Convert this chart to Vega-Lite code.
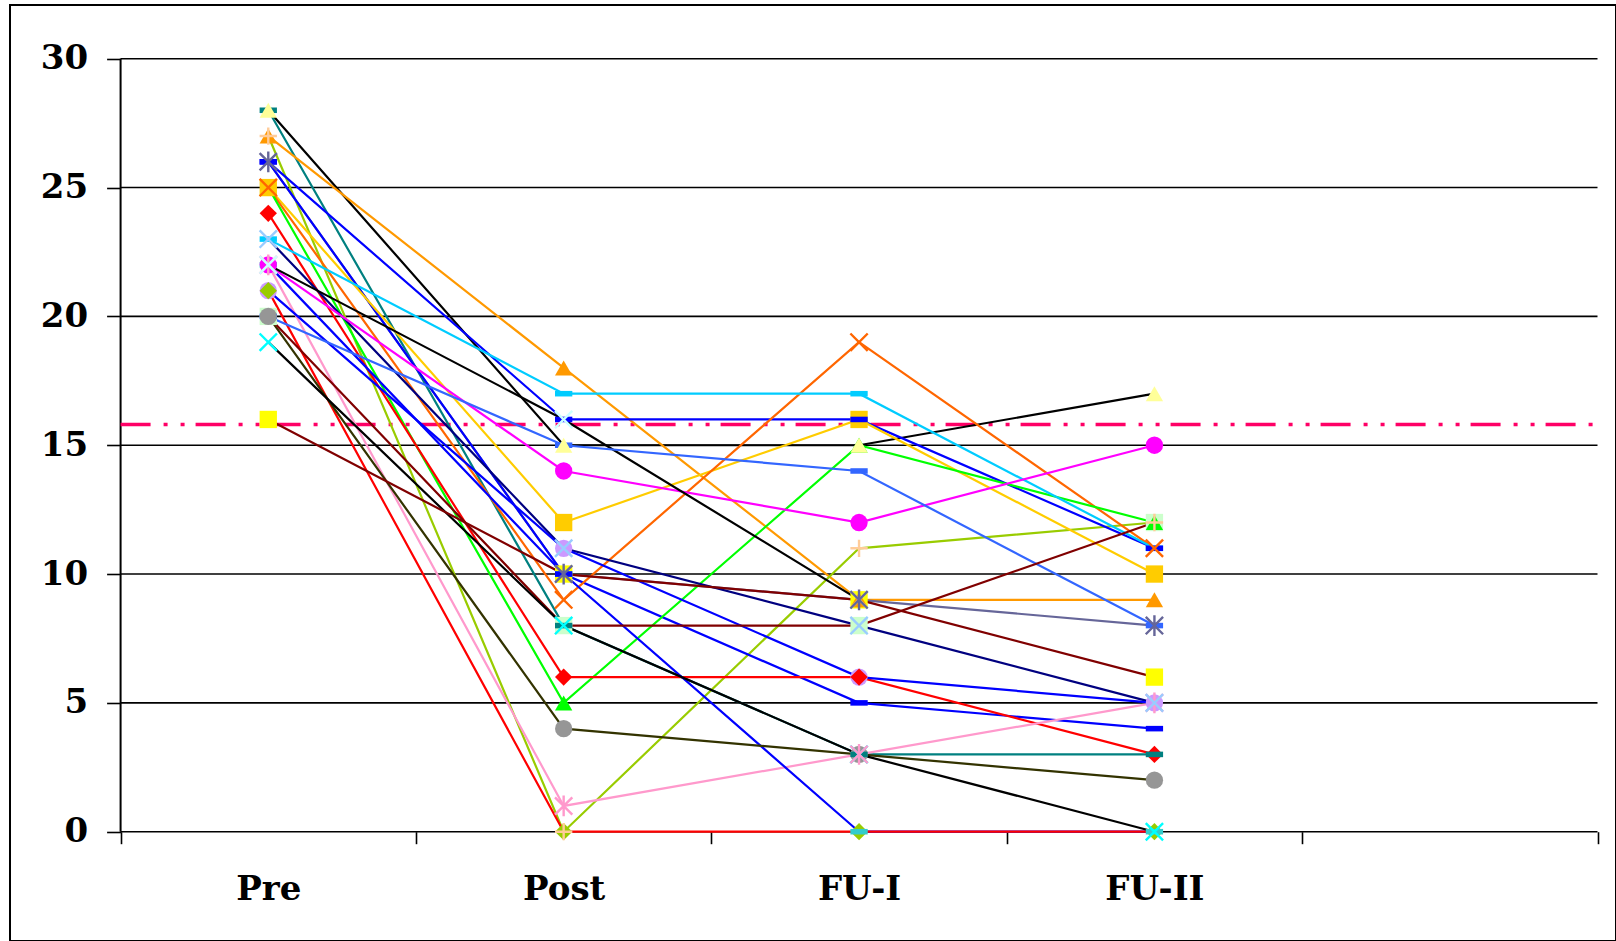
{
  "$schema": "https://vega.github.io/schema/vega-lite/v6.json",
  "width": 1606,
  "height": 936,
  "autosize": {"type": "none"},
  "padding": {"left": 10, "top": 5, "right": 0, "bottom": 0},
  "background": "white",
  "config": {"view": {"stroke": "#000000", "strokeWidth": 2}},
  "datasets": {
    "grid": [{"g": 0}, {"g": 5}, {"g": 10}, {"g": 15}, {"g": 20}, {"g": 25}, {"g": 30}],
    "cut": [{"c": 15.8}],
    "scores": [
      {"s": "S01", "i": 1, "t": "Pre", "v": 28}, {"s": "S01", "i": 2, "t": "Post", "v": 15}, {"s": "S01", "i": 3, "t": "FU-I", "v": 15}, {"s": "S01", "i": 4, "t": "FU-II", "v": 17},
      {"s": "S02", "i": 1, "t": "Pre", "v": 28}, {"s": "S02", "i": 2, "t": "Post", "v": 8}, {"s": "S02", "i": 3, "t": "FU-I", "v": 3}, {"s": "S02", "i": 4, "t": "FU-II", "v": 3},
      {"s": "S03", "i": 1, "t": "Pre", "v": 27}, {"s": "S03", "i": 2, "t": "Post", "v": 18}, {"s": "S03", "i": 3, "t": "FU-I", "v": 9}, {"s": "S03", "i": 4, "t": "FU-II", "v": 9},
      {"s": "S04", "i": 1, "t": "Pre", "v": 27}, {"s": "S04", "i": 2, "t": "Post", "v": 0}, {"s": "S04", "i": 3, "t": "FU-I", "v": 11}, {"s": "S04", "i": 4, "t": "FU-II", "v": 12},
      {"s": "S05", "i": 1, "t": "Pre", "v": 26}, {"s": "S05", "i": 2, "t": "Post", "v": 10}, {"s": "S05", "i": 3, "t": "FU-I", "v": 9}, {"s": "S05", "i": 4, "t": "FU-II", "v": 8},
      {"s": "S06", "i": 1, "t": "Pre", "v": 26}, {"s": "S06", "i": 2, "t": "Post", "v": 16}, {"s": "S06", "i": 3, "t": "FU-I", "v": 16}, {"s": "S06", "i": 4, "t": "FU-II", "v": 11},
      {"s": "S07", "i": 1, "t": "Pre", "v": 26}, {"s": "S07", "i": 2, "t": "Post", "v": 10}, {"s": "S07", "i": 3, "t": "FU-I", "v": 5}, {"s": "S07", "i": 4, "t": "FU-II", "v": 4},
      {"s": "S08", "i": 1, "t": "Pre", "v": 25}, {"s": "S08", "i": 2, "t": "Post", "v": 12}, {"s": "S08", "i": 3, "t": "FU-I", "v": 16}, {"s": "S08", "i": 4, "t": "FU-II", "v": 10},
      {"s": "S09", "i": 1, "t": "Pre", "v": 25}, {"s": "S09", "i": 2, "t": "Post", "v": 9}, {"s": "S09", "i": 3, "t": "FU-I", "v": 19}, {"s": "S09", "i": 4, "t": "FU-II", "v": 11},
      {"s": "S10", "i": 1, "t": "Pre", "v": 25}, {"s": "S10", "i": 2, "t": "Post", "v": 5}, {"s": "S10", "i": 3, "t": "FU-I", "v": 15}, {"s": "S10", "i": 4, "t": "FU-II", "v": 12},
      {"s": "S11", "i": 1, "t": "Pre", "v": 24}, {"s": "S11", "i": 2, "t": "Post", "v": 6}, {"s": "S11", "i": 3, "t": "FU-I", "v": 6}, {"s": "S11", "i": 4, "t": "FU-II", "v": 3},
      {"s": "S12", "i": 1, "t": "Pre", "v": 23}, {"s": "S12", "i": 2, "t": "Post", "v": 17}, {"s": "S12", "i": 3, "t": "FU-I", "v": 17}, {"s": "S12", "i": 4, "t": "FU-II", "v": 11},
      {"s": "S13", "i": 1, "t": "Pre", "v": 23}, {"s": "S13", "i": 2, "t": "Post", "v": 11}, {"s": "S13", "i": 3, "t": "FU-I", "v": 8}, {"s": "S13", "i": 4, "t": "FU-II", "v": 5},
      {"s": "S14", "i": 1, "t": "Pre", "v": 22}, {"s": "S14", "i": 2, "t": "Post", "v": 14}, {"s": "S14", "i": 3, "t": "FU-I", "v": 12}, {"s": "S14", "i": 4, "t": "FU-II", "v": 15},
      {"s": "S15", "i": 1, "t": "Pre", "v": 22}, {"s": "S15", "i": 2, "t": "Post", "v": 16}, {"s": "S15", "i": 3, "t": "FU-I", "v": 9},
      {"s": "S16", "i": 1, "t": "Pre", "v": 22}, {"s": "S16", "i": 2, "t": "Post", "v": 1}, {"s": "S16", "i": 3, "t": "FU-I", "v": 3}, {"s": "S16", "i": 4, "t": "FU-II", "v": 5},
      {"s": "S17", "i": 1, "t": "Pre", "v": 22}, {"s": "S17", "i": 2, "t": "Post", "v": 10}, {"s": "S17", "i": 3, "t": "FU-I", "v": 0}, {"s": "S17", "i": 4, "t": "FU-II", "v": 0},
      {"s": "S18", "i": 1, "t": "Pre", "v": 21}, {"s": "S18", "i": 2, "t": "Post", "v": 0}, {"s": "S18", "i": 3, "t": "FU-I", "v": 0}, {"s": "S18", "i": 4, "t": "FU-II", "v": 0},
      {"s": "S19", "i": 1, "t": "Pre", "v": 21}, {"s": "S19", "i": 2, "t": "Post", "v": 11}, {"s": "S19", "i": 3, "t": "FU-I", "v": 6}, {"s": "S19", "i": 4, "t": "FU-II", "v": 5},
      {"s": "S20", "i": 1, "t": "Pre", "v": 20}, {"s": "S20", "i": 2, "t": "Post", "v": 4}, {"s": "S20", "i": 3, "t": "FU-I", "v": 3}, {"s": "S20", "i": 4, "t": "FU-II", "v": 2},
      {"s": "S21", "i": 1, "t": "Pre", "v": 20}, {"s": "S21", "i": 2, "t": "Post", "v": 15}, {"s": "S21", "i": 3, "t": "FU-I", "v": 14}, {"s": "S21", "i": 4, "t": "FU-II", "v": 8},
      {"s": "S22", "i": 1, "t": "Pre", "v": 20}, {"s": "S22", "i": 2, "t": "Post", "v": 8}, {"s": "S22", "i": 3, "t": "FU-I", "v": 8}, {"s": "S22", "i": 4, "t": "FU-II", "v": 12},
      {"s": "S23", "i": 1, "t": "Pre", "v": 19}, {"s": "S23", "i": 2, "t": "Post", "v": 8}, {"s": "S23", "i": 3, "t": "FU-I", "v": 3}, {"s": "S23", "i": 4, "t": "FU-II", "v": 0},
      {"s": "S24", "i": 1, "t": "Pre", "v": 16}, {"s": "S24", "i": 2, "t": "Post", "v": 10}, {"s": "S24", "i": 3, "t": "FU-I", "v": 9}, {"s": "S24", "i": 4, "t": "FU-II", "v": 6}
    ]
  },
  "layer": [
    {
      "data": {"name": "grid"},
      "mark": {"type": "rule", "stroke": "#000000", "strokeWidth": 1.6},
      "encoding": {
        "y": {
          "field": "g", "type": "quantitative",
          "scale": {"domain": [-4.242, 32.086], "nice": false, "zero": false},
          "axis": {"orient": "left", "offset": -110.6, "domain": false, "grid": false, "values": [0, 5, 10, 15, 20, 25, 30], "tickSize": 14, "tickColor": "#000000", "tickWidth": 1.6, "labelFont": "DejaVu Serif", "labelFontWeight": "bold", "labelFontSize": 34, "labelColor": "#000000", "labelPadding": 19, "title": null}
        },
        "x": {
          "datum": "Pre", "type": "nominal", "bandPosition": 0,
          "scale": {"type": "band", "domain": ["Pre", "Post", "FU-I", "FU-II", "_"], "paddingInner": 0, "paddingOuter": 0.2185, "align": 0.8567},
          "axis": {"orient": "bottom", "offset": -109.3, "domain": false, "grid": false, "tickBand": "extent", "tickSize": 12, "tickColor": "#000000", "tickWidth": 1.6, "labelFont": "DejaVu Serif", "labelFontWeight": "bold", "labelFontSize": 34, "labelColor": "#000000", "labelPadding": 29, "labelAngle": 0, "labelExpr": "datum.value == '_' ? '' : datum.value", "title": null}
        },
        "x2": {"datum": "_", "bandPosition": 1}
      }
    },
    {
      "data": {"name": "grid"},
      "transform": [{"filter": "datum.g == 30"}],
      "mark": {"type": "rule", "stroke": "#000000", "strokeWidth": 2},
      "encoding": {
        "x": {"datum": "Pre", "type": "nominal", "bandPosition": 0},
        "y": {"datum": 30, "type": "quantitative"},
        "y2": {"datum": 0}
      }
    },
    {
      "data": {"name": "cut"},
      "mark": {"type": "rule", "stroke": "#FF0066", "strokeWidth": 3.5, "strokeDash": [30, 13, 4, 13, 4, 11]},
      "encoding": {
        "y": {"field": "c", "type": "quantitative"},
        "x": {"datum": "Pre", "type": "nominal", "bandPosition": 0},
        "x2": {"datum": "_", "bandPosition": 1}
      }
    },
    {
      "data": {"name": "scores"},
      "mark": {"type": "line", "strokeWidth": 2.2},
      "encoding": {
        "x": {"field": "t", "type": "nominal", "bandPosition": 0.5},
        "y": {"field": "v", "type": "quantitative"},
        "detail": {"field": "s"},
        "order": {"field": "i", "type": "quantitative"},
        "color": {
          "field": "s", "type": "nominal", "legend": null,
          "scale": {
            "domain": ["S01","S02","S03","S04","S05","S06","S07","S08","S09","S10","S11","S12","S13","S14","S15","S16","S17","S18","S19","S20","S21","S22","S23","S24"],
            "range": ["#000000","#008080","#FF9900","#99CC00","#666699","#0000FF","#0000FF","#FFCC00","#FF6600","#00FF00","#FF0000","#00CCFF","#000080","#FF00FF","#000000","#FF99CC","#0000FF","#FF0000","#0000FF","#333300","#3366FF","#800000","#000000","#800000"]
          }
        }
      }
    },
    {
      "data": {"name": "scores"},
      "transform": [{"filter": {"field": "s", "oneOf": ["S01","S02","S03","S06","S07","S08","S10","S11","S12","S14","S17","S18","S19","S20","S21","S22","S24"]}}],
      "mark": {"type": "point", "filled": true, "opacity": 1, "size": 300},
      "encoding": {
        "x": {"field": "t", "type": "nominal", "bandPosition": 0.5},
        "y": {"field": "v", "type": "quantitative"},
        "order": {"field": "s", "sort": "descending"},
        "shape": {
          "field": "s", "type": "nominal", "legend": null,
          "scale": {
            "domain": ["S01","S02","S03","S04","S05","S06","S07","S08","S09","S10","S11","S12","S13","S14","S15","S16","S17","S18","S19","S20","S21","S22","S23","S24"],
            "range": ["triangle-up","M-1,-0.32H1V0.32H-1Z","triangle-up","M-1,0L1,0M0,-1L0,1","M-1,-1L1,1M-1,1L1,-1M0,-1.2L0,1.2","M-1,-0.32H1V0.32H-1Z","M-1,-0.32H1V0.32H-1Z","square","M-1,-1L1,1M-1,1L1,-1","triangle-up","diamond","M-1,-0.32H1V0.32H-1Z","M-1,-1L1,1M-1,1L1,-1","circle","M-1,-1L1,1M-1,1L1,-1","M-1,-1L1,1M-1,1L1,-1M0,-1.2L0,1.2","M-1,-0.32H1V0.32H-1Z","diamond","circle","circle","M-1,-0.32H1V0.32H-1Z","square","M-1,-1L1,1M-1,1L1,-1","square"]
          }
        },
        "fill": {
          "field": "s", "type": "nominal", "legend": null,
          "scale": {
            "domain": ["S01","S02","S03","S04","S05","S06","S07","S08","S09","S10","S11","S12","S13","S14","S15","S16","S17","S18","S19","S20","S21","S22","S23","S24"],
            "range": ["#FFFF99","#008080","#FF9900","#FFCC99","#666699","#0000FF","#0000FF","#FFCC00","#FF6600","#00FF00","#FF0000","#00CCFF","#99CCFF","#FF00FF","#CCFFFF","#FF99CC","#33CCCC","#99CC00","#CC99FF","#969696","#3366FF","#CCFFCC","#00FFFF","#FFFF00"]
          }
        }
      }
    },
    {
      "data": {"name": "scores"},
      "transform": [{"filter": {"field": "s", "oneOf": ["S04","S05","S09","S13","S15","S16","S23"]}}],
      "mark": {"type": "point", "filled": false, "opacity": 1, "size": 300, "strokeWidth": 2.4},
      "encoding": {
        "x": {"field": "t", "type": "nominal", "bandPosition": 0.5},
        "y": {"field": "v", "type": "quantitative"},
        "order": {"field": "s", "sort": "descending"},
        "shape": {"field": "s", "type": "nominal", "legend": null},
        "stroke": {
          "field": "s", "type": "nominal", "legend": null,
          "scale": {
            "domain": ["S01","S02","S03","S04","S05","S06","S07","S08","S09","S10","S11","S12","S13","S14","S15","S16","S17","S18","S19","S20","S21","S22","S23","S24"],
            "range": ["#FFFF99","#008080","#FF9900","#FFCC99","#666699","#0000FF","#0000FF","#FFCC00","#FF6600","#00FF00","#FF0000","#00CCFF","#99CCFF","#FF00FF","#CCFFFF","#FF99CC","#33CCCC","#99CC00","#CC99FF","#969696","#3366FF","#CCFFCC","#00FFFF","#FFFF00"]
          }
        }
      }
    }
  ]
}
